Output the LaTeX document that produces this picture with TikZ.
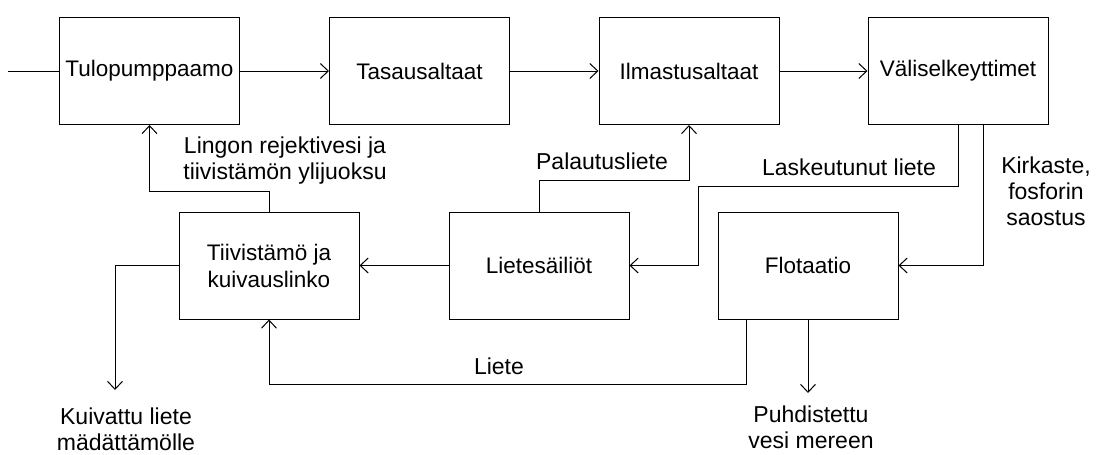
\documentclass[tikz,border=0pt]{standalone}
\usepackage{fontspec}
\setmainfont{Liberation Sans}
\usetikzlibrary{arrows.meta}
\begin{document}
\begin{tikzpicture}[x=1pt,y=-1pt,
  box/.style={draw,line width=1pt,minimum width=180pt,minimum height=107pt,inner sep=0pt,align=center,font=\fontsize{22.5}{27}\selectfont},
  arr/.style={line width=1pt,-{Straight Barb[length=8pt,width=15pt,line width=1pt]}},
  ln/.style={line width=1pt},
  lbl/.style={align=center,inner sep=0pt,font=\fontsize{23}{26}\selectfont}]
\useasboundingbox (0,0) rectangle (1096,455);
\node[box] (b1) at (149.5,71) {Tulopumppaamo};
\node[box] (b2) at (419.5,71) {Tasausaltaat};
\node[box] (b3) at (689,71) {Ilmastusaltaat};
\node[box] (b4) at (958,71) {Väliselkeyttimet};
\node[box] (b5) at (269,265.5) {Tiivistämö ja\\kuivauslinko};
\node[box] (b6) at (539,265.5) {Lietesäiliöt};
\node[box] (b7) at (808,265.5) {Flotaatio};
\coordinate (in) at (8,71);
\coordinate (kout) at (115,390);
\coordinate (pout) at (808,393);
\draw[ln] (in) -- (b1);
\draw[arr] (b1) -- (b2);
\draw[arr] (b2) -- (b3);
\draw[arr] (b3) -- (b4);
\draw[arr] (b5.north) -- ++(0,-20) -| (b1.south);
\draw[arr] (b6.north) -- ++(0,-31) -| (b3.south);
\draw[arr] (b4.south) -- ++(0,61) -| ([xshift=69pt]b6.east) -- (b6.east);
\draw[arr] ([xshift=25pt]b4.south) |- (b7.east);
\draw[arr] (b6.west) -- (b5.east);
\draw[arr] (b5.west) -| (kout);
\draw[arr] ([xshift=-62pt]b7.south) -- ++(0,65) -| (b5.south);
\draw[arr] (b7.south) -- (pout);
\node[lbl] (l1) at (285,161) {Lingon rejektivesi ja\\tiivistämön ylijuoksu};
\node[lbl] (l2) at (602,161) {Palautusliete};
\node[lbl] (l3) at (849,167) {Laskeutunut liete};
\node[lbl] (l4) at (1046,191) {Kirkaste,\\fosforin\\saostus};
\node[lbl] (l5) at (499,366) {Liete};
\node[lbl] (l6) at (126,429) {Kuivattu liete\\mädättämölle};
\node[lbl] (l7) at (811,427) {Puhdistettu\\vesi mereen};
\end{tikzpicture}
\end{document}
